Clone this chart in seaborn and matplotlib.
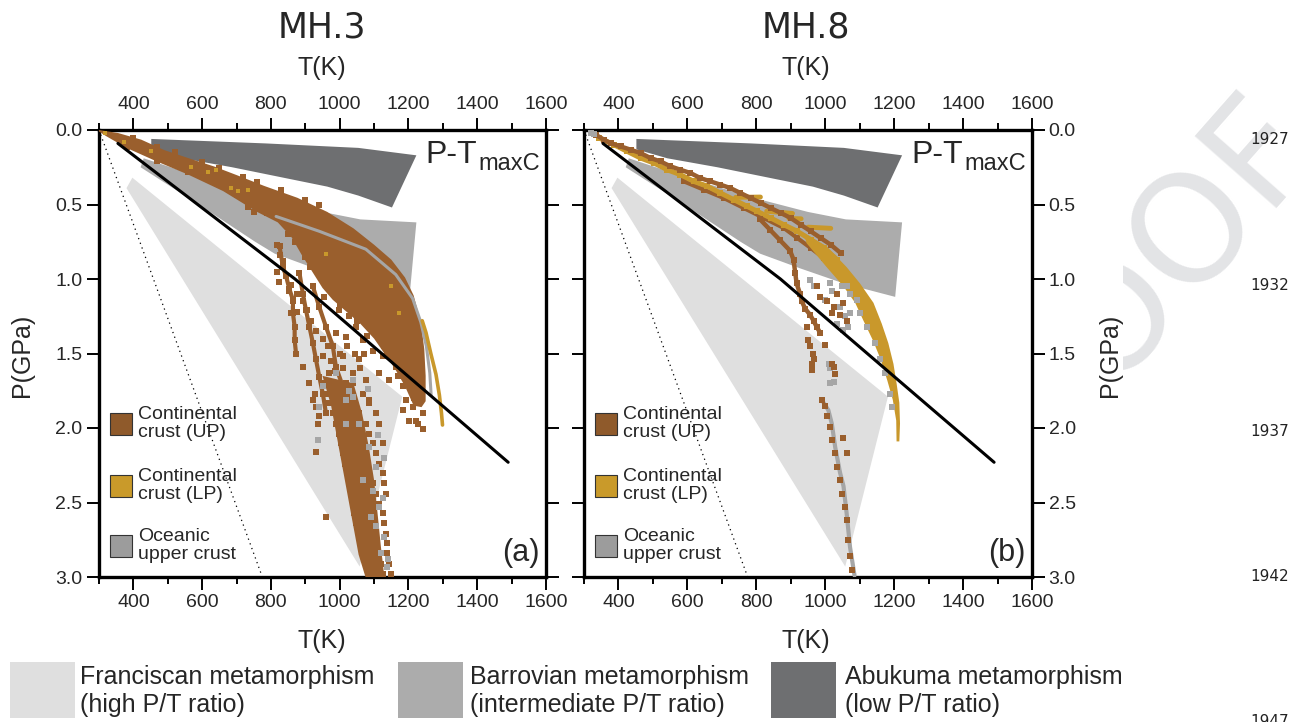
import matplotlib
matplotlib.use("Agg")
import matplotlib.pyplot as plt
import seaborn as sns
from matplotlib.patches import Rectangle

sns.set_theme(style="white")
plt.rcParams["font.family"] = ["Liberation Sans", "DejaVu Sans"]
plt.rcParams["mathtext.default"] = "regular"

C_UP = "#9a5f2d"
C_LP = "#c9982b"
C_OC = "#a6a6a6"
C_FRAN = "#dfdfdf"
C_BARR = "#acacac"
C_ABU = "#6e6f71"

# ---------------- metamorphism fields (T in K, P in GPa) ----------------
fran_T = [397, 1182, 1058, 380]
fran_P = [0.32, 1.79, 2.93, 0.39]
barr_T = [430, 600, 800, 950, 1060, 1223, 1203, 1054, 929, 811, 754, 590, 421]
barr_P = [0.19, 0.32, 0.46, 0.55, 0.60, 0.62, 1.12, 1.03, 0.93, 0.83, 0.75, 0.50, 0.25]
abu_T = [452, 784, 1054, 1223, 1152, 1054, 964, 687, 542, 452]
abu_P = [0.06, 0.09, 0.12, 0.17, 0.52, 0.44, 0.38, 0.25, 0.19, 0.13]

# reference lines
geo_T = [355, 870, 1490]
geo_P = [0.09, 1.00, 2.23]
dot_T = [300, 775]
dot_P = [0.0, 3.0]

# ---------------- MH.3 (a) ----------------
a_band_T = [300, 355, 423, 490, 568, 635, 703, 780, 877, 964, 1040, 1100, 1150, 1190, 1215, 1236, 1246, 1250, 1250,
            1238, 1215, 1190, 1160, 1130, 1100, 1060, 1020, 980, 950, 920, 890, 860, 820, 760, 661, 560, 467, 380, 320, 300]
a_band_P = [0.00, 0.02, 0.065, 0.135, 0.195, 0.245, 0.305, 0.375, 0.455, 0.55, 0.66, 0.77, 0.87, 0.99, 1.11, 1.29, 1.47, 1.65, 1.82,
            1.86, 1.85, 1.72, 1.60, 1.50, 1.40, 1.30, 1.22, 1.14, 1.06, 0.95, 0.84, 0.72, 0.62, 0.55, 0.41, 0.30, 0.21, 0.12, 0.04, 0.01]
a_plume_T = [950, 975, 995, 1015, 1035, 1055, 1075, 1130, 1120, 1110, 1100, 1085, 1065, 1040]
a_plume_P = [1.65, 1.85, 2.10, 2.35, 2.60, 2.85, 3.00, 3.00, 2.80, 2.57, 2.35, 2.13, 1.90, 1.70]
a_f1_T = [825, 835, 844, 854, 864, 864, 869, 869, 873]
a_f1_P = [0.78, 0.92, 0.98, 1.07, 1.14, 1.23, 1.32, 1.41, 1.50]
a_f2_T = [883, 893, 902, 912, 922, 931, 941, 951, 960]
a_f2_P = [0.96, 1.10, 1.21, 1.32, 1.43, 1.54, 1.66, 1.77, 1.90]
a_f3_T = [922, 941, 960, 980, 989, 1009, 1028, 1038]
a_f3_P = [1.05, 1.19, 1.32, 1.45, 1.59, 1.72, 1.86, 2.00]
a_up_T = [732, 751, 819, 827, 834, 819, 824, 858, 853, 863, 877, 892, 877, 906, 858, 916,
          999, 1028, 1047, 1018, 1067, 1086, 1105, 1096, 1125, 1144, 1115, 1144, 1163, 1183, 1202, 1192,
          1212, 1221, 1241, 1076, 1086, 1057, 1009, 1038, 989, 1202, 1226, 1183, 1202, 1227, 1241,
          893, 912, 922, 941, 970, 980, 989, 1018, 1028, 951,
          961, 927, 931, 936, 936, 931,
          951, 980, 1018, 1038, 960, 989, 1028, 1067, 970, 999, 1038, 1086, 980, 1004, 1028, 1057, 1105,
          989, 1014, 1038, 1076, 1115, 999, 1023, 1047, 1086, 1004, 1028, 1057, 1096, 1125,
          1009, 1033, 1067, 1105, 1014, 1043, 1076, 1115, 1023, 1047, 1086, 1125, 1028, 1057, 1096, 1130,
          1033, 1062, 1105, 1134, 1038, 1072, 1115, 1043, 1076, 1125, 1047, 1086, 1130, 1057, 1096, 1134,
          1062, 1105, 1139, 1067, 1115, 1139, 1076, 1120, 1144, 1086, 1125, 1149,
          400, 470, 520, 600, 650, 720, 760, 830, 900, 940, 380, 470, 560, 650, 700, 760, 790,
          940, 960, 985, 1010, 1035, 1060, 1085, 1110, 1135, 1160, 1180, 1200, 1215, 900, 915, 870, 850,
          955, 1000, 1050, 1080, 1130, 1170, 1225, 950, 965, 975, 1000, 1020, 1045, 930, 985, 1010, 1060, 1070]
a_up_P = [0.52, 0.55, 0.77, 0.84, 0.88, 0.95, 1.02, 1.04, 1.08, 1.15, 1.10, 1.15, 1.22, 1.21, 1.23, 1.28,
          1.21, 1.25, 1.32, 1.39, 1.41, 1.30, 1.36, 1.48, 1.52, 1.45, 1.63, 1.68, 1.59, 1.72, 1.63, 1.81,
          1.86, 1.95, 1.90, 1.68, 1.81, 1.54, 1.52, 1.63, 1.36, 1.45, 1.54, 1.88, 1.95, 1.97, 2.01,
          1.59, 1.70, 1.81, 1.92, 1.63, 1.77, 1.90, 1.81, 1.92, 1.52,
          2.60, 1.77, 1.86, 1.97, 2.08, 2.16,
          1.70, 1.70, 1.70, 1.70, 1.77, 1.77, 1.77, 1.77, 1.83, 1.83, 1.83, 1.83, 1.90, 1.90, 1.90, 1.90, 1.90,
          1.97, 1.97, 1.97, 1.97, 1.97, 2.04, 2.04, 2.04, 2.04, 2.10, 2.10, 2.10, 2.10, 2.10,
          2.17, 2.17, 2.17, 2.17, 2.24, 2.24, 2.24, 2.24, 2.30, 2.30, 2.30, 2.30, 2.37, 2.37, 2.37, 2.37,
          2.44, 2.44, 2.44, 2.44, 2.51, 2.51, 2.51, 2.57, 2.57, 2.57, 2.64, 2.64, 2.64, 2.71, 2.71, 2.71,
          2.77, 2.77, 2.77, 2.84, 2.84, 2.84, 2.91, 2.91, 2.91, 2.98, 2.98, 2.98,
          0.055, 0.115, 0.150, 0.215, 0.255, 0.315, 0.350, 0.405, 0.470, 0.505, 0.115, 0.205, 0.285, 0.365, 0.435, 0.505, 0.555,
          0.95, 1.00, 1.05, 1.10, 1.15, 1.20, 1.25, 1.30, 1.37, 1.45, 1.55, 1.70, 1.80, 0.85, 0.92, 0.75, 0.70,
          1.12, 1.17, 1.28, 1.38, 1.45, 1.65, 1.75, 1.40, 1.45, 1.55, 1.50, 1.45, 1.50, 1.35, 1.62, 1.60, 1.60, 1.50]
a_lp_arc_T = [1240, 1251, 1265, 1280, 1290, 1296, 1299]
a_lp_arc_P = [1.28, 1.36, 1.50, 1.64, 1.78, 1.90, 1.98]
a_lp_T = [316, 374, 452, 568, 616, 641, 684, 703, 732, 961, 1149, 1173]
a_lp_P = [0.02, 0.08, 0.14, 0.25, 0.28, 0.27, 0.39, 0.41, 0.40, 0.83, 1.05, 1.23]
a_oc_track_T = [815, 941, 1076, 1163, 1212, 1236, 1252, 1262, 1266]
a_oc_track_P = [0.58, 0.68, 0.80, 0.97, 1.13, 1.29, 1.45, 1.63, 1.78]
a_oc_T = [1018, 1057, 1086, 1105, 1096, 1115, 1105, 1130, 1120, 1139, 941, 936, 1067, 1038, 1081,
          951, 989, 1028, 1018, 1038, 1110, 1128, 1090, 1140, 1125]
a_oc_P = [1.81, 1.97, 2.13, 2.26, 2.42, 2.53, 2.66, 2.73, 2.84, 2.93, 1.86, 2.08, 2.35, 1.79, 1.74,
          1.72, 1.63, 1.75, 1.97, 1.68, 2.05, 2.20, 2.60, 2.88, 2.47]

# ---------------- MH.8 (b) ----------------
b_s1_T = [334, 358, 377, 406, 435, 464, 493, 522, 551, 580, 609, 638, 667, 696, 725, 754, 784, 813, 842,
          871, 900, 929, 958, 987, 1016, 1045]
b_s1_P = [0.032, 0.065, 0.088, 0.110, 0.132, 0.155, 0.188, 0.211, 0.244, 0.267, 0.289, 0.323, 0.345, 0.367,
          0.390, 0.423, 0.457, 0.490, 0.524, 0.557, 0.591, 0.636, 0.680, 0.725, 0.770, 0.826]
b_s2_T = [590, 648, 706, 764, 822, 880, 919, 958, 996, 1035]
b_s2_P = [0.345, 0.401, 0.457, 0.524, 0.591, 0.658, 0.725, 0.792, 0.860, 0.927]
b_s3_T = [811, 840, 869, 898, 908, 913, 917, 927, 932, 942, 956, 966, 975, 985]
b_s3_P = [0.60, 0.67, 0.74, 0.81, 0.87, 0.96, 1.03, 1.10, 1.15, 1.20, 1.24, 1.28, 1.32, 1.36]
b_lp1_T = [344, 387, 426, 464, 503, 542, 580, 619, 658, 696, 735, 774, 803, 842, 880, 919, 958, 996, 1035]
b_lp1_P = [0.054, 0.099, 0.144, 0.188, 0.222, 0.267, 0.300, 0.345, 0.378, 0.423, 0.468, 0.513, 0.546,
           0.591, 0.636, 0.680, 0.736, 0.792, 0.871]
b_tail_T = [[740, 812], [830, 905], [895, 930], [950, 1016]]
b_tail_P = [[0.452, 0.450], [0.545, 0.560], [0.594, 0.596], [0.652, 0.660]]
b_arc_T = [937, 1004, 1062, 1101, 1140, 1164, 1183, 1198, 1207, 1215, 1217, 1215,
           1207, 1206, 1196, 1180, 1161, 1138, 1111, 1087, 1053, 1004, 946]
b_arc_P = [0.69, 0.78, 0.92, 1.03, 1.16, 1.30, 1.43, 1.57, 1.70, 1.83, 1.97, 2.09,
           2.09, 1.95, 1.81, 1.68, 1.54, 1.41, 1.28, 1.16, 1.05, 0.92, 0.76]
b_up_T = [946, 951, 956, 966, 961, 1019, 1024, 1029, 999, 975, 985, 1004, 1024, 1033, 1053, 1062, 1019, 1043,
          961, 965, 990, 999, 1004, 1014, 1019, 1029, 1033, 1043, 1048, 1058, 1062, 1067, 1072, 1077, 1053, 1062]
b_up_P = [1.32, 1.41, 1.45, 1.54, 1.61, 1.57, 1.59, 1.64, 1.44, 1.05, 1.12, 1.15, 1.19, 1.10, 1.16, 1.28, 1.23, 1.24,
          1.57, 1.50, 1.81, 1.85, 1.92, 1.99, 2.08, 2.17, 2.26, 2.35, 2.44, 2.53, 2.62, 2.75, 2.86, 2.95, 2.07, 2.17]
b_oc_streak_T = [995, 1009, 1019, 1029, 1043, 1053, 1062, 1072, 1085]
b_oc_streak_P = [1.83, 1.88, 1.97, 2.13, 2.30, 2.39, 2.57, 2.80, 2.99]
b_oc_T = [956, 966, 1014, 1019, 1043, 1058, 1067, 1072, 1033, 1053, 1072, 1048, 999,
          1101, 1120, 1145, 1159, 1174, 1188, 1193, 1091, 1062, 1014, 1014, 320, 330, 1025, 1012]
b_oc_P = [1.01, 1.05, 1.03, 1.08, 1.19, 1.25, 1.32, 1.23, 1.30, 1.34, 1.10, 1.05, 1.14,
          1.23, 1.32, 1.43, 1.54, 1.63, 1.77, 1.86, 1.14, 1.05, 1.70, 1.60, 0.02, 0.03, 1.69, 1.57]

xticks_major = [400, 600, 800, 1000, 1200, 1400, 1600]
xticks_minor = [300, 500, 700, 900, 1100, 1300, 1500]
yticks = [0.0, 0.5, 1.0, 1.5, 2.0, 2.5, 3.0]
legend_items = [("Continental\ncrust (UP)", "#8f5a2b"), ("Continental\ncrust (LP)", "#c99a2a"),
                ("Oceanic\nupper crust", "#9c9c9c")]
field_items = [("Franciscan metamorphism\n(high P/T ratio)", C_FRAN),
               ("Barrovian metamorphism\n(intermediate P/T ratio)", C_BARR),
               ("Abukuma metamorphism\n(low P/T ratio)", C_ABU)]
line_numbers = ["1927", "1932", "1937", "1942", "1947"]


def pts(ax, T, P, color, s=13, z=4):
    sns.scatterplot(x=T, y=P, ax=ax, marker="s", s=s, color=color, linewidth=0, zorder=z, legend=False)


def line(ax, T, P, color, lw, z=4, ls="-"):
    sns.lineplot(x=T, y=P, ax=ax, sort=False, estimator=None, color=color, lw=lw, zorder=z,
                 linestyle=ls, legend=False)


def base(ax):
    ax.fill(fran_T, fran_P, color=C_FRAN, lw=0, zorder=1)
    ax.fill(barr_T, barr_P, color=C_BARR, lw=0, zorder=1)
    ax.fill(abu_T, abu_P, color=C_ABU, lw=0, zorder=1)
    line(ax, dot_T, dot_P, "black", 0.9, z=2, ls=(0, (1, 3)))


def finish(ax, side, tag):
    line(ax, geo_T, geo_P, "black", 2.2, z=6)
    ax.set_xlim(300, 1600)
    ax.set_ylim(3.0, 0.0)
    ax.set_xticks(xticks_major)
    ax.set_xticks(xticks_minor, minor=True)
    ax.set_yticks(yticks)
    ax.set_yticklabels([f"{v:.1f}" for v in yticks])
    ax.tick_params(axis="x", which="both", direction="out", top=True, bottom=True,
                   labeltop=True, labelbottom=True, labelsize=14, width=1.4, pad=3, color="black")
    ax.tick_params(axis="x", which="major", length=9)
    ax.tick_params(axis="x", which="minor", length=5)
    ax.tick_params(axis="y", which="major", direction="out", left=True, right=True,
                   labelleft=(side == "left"), labelright=(side == "right"),
                   length=9, width=1.4, labelsize=14, pad=3, color="black")
    for sp in ax.spines.values():
        sp.set_linewidth(2.4)
        sp.set_color("black")
    ax.set_xlabel("")
    ax.set_ylabel("")
    ax.text(0.846, 0.926, "P-T", transform=ax.transAxes, ha="right", va="baseline", fontsize=23, zorder=8)
    ax.text(0.987, 0.9105, "maxC", transform=ax.transAxes, ha="right", va="baseline", fontsize=17, zorder=8)
    ax.text(0.985, 0.036, tag, transform=ax.transAxes, ha="right", va="baseline", fontsize=22, zorder=8)
    ys = [0.318, 0.179, 0.045]
    for (lab, col), y0 in zip(legend_items, ys):
        ax.add_patch(Rectangle((0.0246, y0), 0.049, 0.05, transform=ax.transAxes, facecolor=col,
                               edgecolor="#333333", lw=0.8, zorder=8))
        ax.text(0.087, y0 + 0.026, lab, transform=ax.transAxes, ha="left", va="center",
                fontsize=14, linespacing=1.1, zorder=8)


fig = plt.figure(figsize=(13.16, 7.22), dpi=100)
W, H = 1316.0, 722.0

# "PROOF" watermark of the proof page, hidden behind the pasted chart area on the left
fig.text(1320 / W, 1 - 143 / H, "PROOF", rotation=48.6, rotation_mode="anchor", ha="right",
         va="baseline", fontsize=108, color="#e3e4e6", family="DejaVu Sans", zorder=-10)
fig.add_artist(Rectangle((0, 0), 1123 / W, 1, transform=fig.transFigure, facecolor="white",
                         edgecolor="none", zorder=-5))

axa = fig.add_axes([99 / W, 145 / H, 447 / W, 447 / H])
axb = fig.add_axes([584 / W, 145 / H, 448 / W, 447 / H])

# panel (a)
base(axa)
axa.fill(a_band_T, a_band_P, color=C_UP, lw=0, zorder=3)
axa.fill(a_plume_T, a_plume_P, color=C_UP, lw=0, zorder=3)
for fT, fP in [(a_f1_T, a_f1_P), (a_f2_T, a_f2_P), (a_f3_T, a_f3_P)]:
    line(axa, fT, fP, C_UP, 3.0, z=3)
    pts(axa, fT, fP, C_UP, s=22, z=3)
pts(axa, a_up_T, a_up_P, C_UP, s=18, z=4)
line(axa, a_oc_track_T, a_oc_track_P, C_OC, 2.2, z=5)
pts(axa, a_oc_T, a_oc_P, C_OC, s=14, z=5)
line(axa, a_lp_arc_T, a_lp_arc_P, C_LP, 2.6, z=5)
pts(axa, a_lp_T, a_lp_P, C_LP, s=12, z=5)
finish(axa, "left", "(a)")

# panel (b)
base(axb)
line(axb, b_s2_T, b_s2_P, C_UP, 3.0, z=3)
pts(axb, b_s2_T, b_s2_P, C_UP, s=18, z=3)
line(axb, b_lp1_T, b_lp1_P, C_LP, 3.6, z=3)
pts(axb, b_lp1_T, b_lp1_P, C_LP, s=20, z=3)
for tT, tP in zip(b_tail_T, b_tail_P):
    line(axb, tT, tP, C_LP, 3.5, z=3)
line(axb, b_s1_T, b_s1_P, C_UP, 3.2, z=4)
pts(axb, b_s1_T, b_s1_P, C_UP, s=20, z=4)
line(axb, b_s3_T, b_s3_P, C_UP, 3.2, z=4)
pts(axb, b_s3_T, b_s3_P, C_UP, s=20, z=4)
axb.fill(b_arc_T, b_arc_P, color=C_LP, lw=0, zorder=3)
line(axb, b_oc_streak_T, b_oc_streak_P, C_OC, 3.0, z=3)
pts(axb, b_oc_T, b_oc_P, C_OC, s=14, z=4)
pts(axb, b_up_T, b_up_P, C_UP, s=14, z=5)
finish(axb, "right", "(b)")

# titles & axis labels
for cx, title in [(322, "MH.3"), (806, "MH.8")]:
    fig.text(cx / W, 1 - 28 / H, title, ha="center", va="center", fontsize=25, family="DejaVu Sans")
    fig.text(cx / W, 1 - 68 / H, "T(K)", ha="center", va="center", fontsize=18)
    fig.text(cx / W, 1 - 641 / H, "T(K)", ha="center", va="center", fontsize=18)
fig.text(22 / W, 1 - 355 / H, "P(GPa)", rotation=90, ha="center", va="center", fontsize=18)
fig.text(1110 / W, 1 - 355 / H, "P(GPa)", rotation=90, ha="center", va="center", fontsize=18)

# line numbers of the proof page
for i, num in enumerate(line_numbers):
    fig.text(1270 / W, 1 - (140 + 145.5 * i) / H, num, ha="center", va="center", fontsize=11,
             family="DejaVu Sans", color="#222222")

# bottom legend for the metamorphic fields
for (lab, col), x0, xt in zip(field_items, [10, 398, 771], [80, 470, 845]):
    fig.add_artist(Rectangle((x0 / W, 4 / H), 65 / W, 56 / H, transform=fig.transFigure,
                             facecolor=col, edgecolor="none", zorder=1))
    fig.text(xt / W, 1 - 691 / H, lab, ha="left", va="center", fontsize=18, linespacing=1.25)

fig.savefig("out.png", dpi=100)
